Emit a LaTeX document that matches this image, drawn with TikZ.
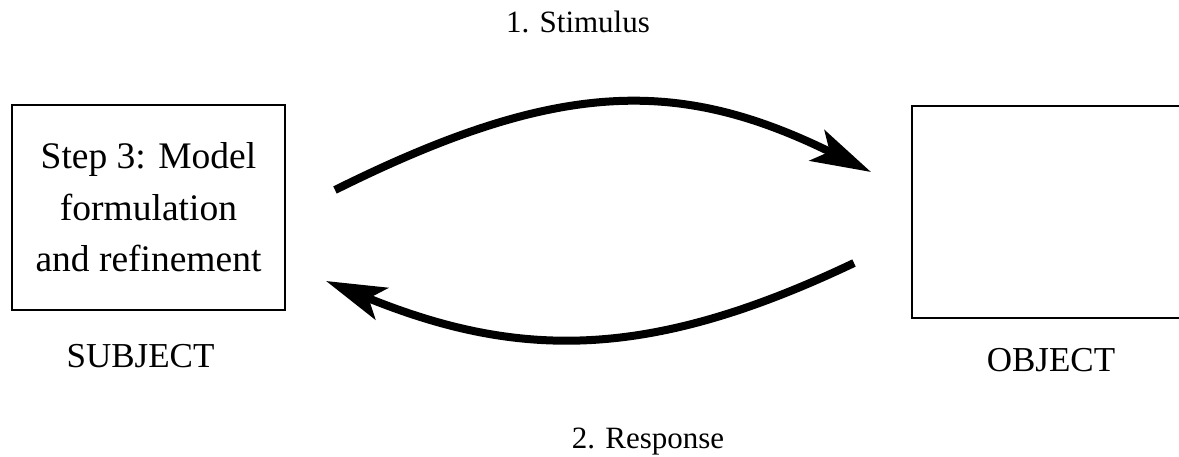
\documentclass[tikz,border=0pt]{standalone}
\usepackage{fontspec}
\setmainfont{Liberation Serif}
\usetikzlibrary{arrows.meta, positioning}

\begin{document}
\begin{tikzpicture}[
    x=0.5pt, y=0.5pt,
    every node/.style={font=\fontsize{15.5}{18}\selectfont},
    box/.style={rectangle, draw, line width=1pt, inner sep=0pt},
    boxtext/.style={font=\fontsize{18.75}{25.75}\selectfont, align=center},
    caption/.style={font=\fontsize{17.5}{20}\selectfont},
    flow/.style={-{Stealth[length=30pt, width=17pt, inset=7pt]}, line width=4pt}
]
    \useasboundingbox (0,0) rectangle (1179,456);
    \node[box, boxtext, minimum width=136.5pt, minimum height=102.5pt] (subj) at (148.5,248.5) {Step 3: Model\\formulation\\and refinement};
    \node[box, minimum width=139pt, minimum height=106pt] (obj) at (1051,244) {};
    \node[caption, below=28pt of subj.south, anchor=base, xshift=-4pt] (subjlbl) {SUBJECT};
    \node[caption, below=26pt of obj.south, anchor=base] (objlbl) {OBJECT};
    \node[anchor=base] (stim) at (578,423) {1. Stimulus};
    \node[anchor=base] (resp) at (648,8) {2. Response};

    \draw[flow] ([shift={(49,17.5)}]subj.east) .. controls (560,378) and (680,378) .. ([shift={(-40,40)}]obj.west);
    \draw[flow] ([shift={(-57,-51)}]obj.west) .. controls (650,96) and (520,96) .. ([shift={(40,-73.5)}]subj.east);
\end{tikzpicture}
\end{document}
